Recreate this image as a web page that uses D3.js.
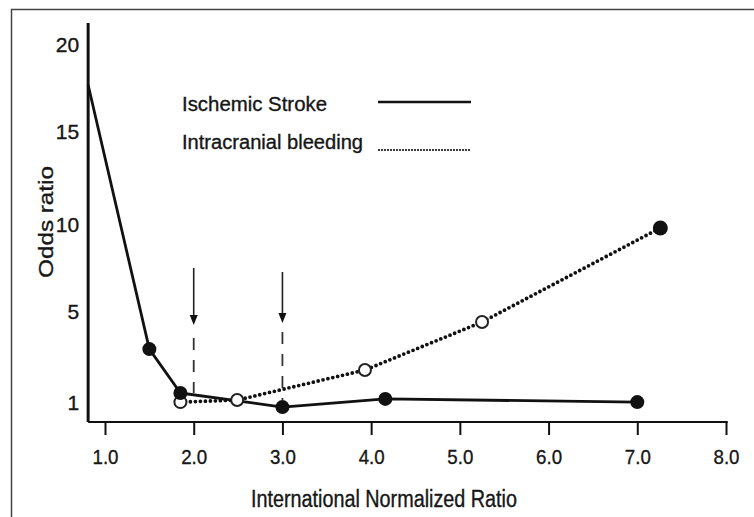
<!DOCTYPE html>
<html>
<head>
<meta charset="utf-8">
<script src="https://cdn.jsdelivr.net/npm/d3@7"></script>
<style>
  html, body { margin: 0; padding: 0; background: #fff; }
  svg { display: block; }
  text { font-family: "Liberation Sans", Arial, sans-serif; fill: #161616; stroke: #161616; stroke-width: 0.35px; }
</style>
</head>
<body>
<svg id="chart" width="754" height="517"></svg>
<script>
// ---- data ----
const xTicks = [1, 2, 3, 4, 5, 6, 7, 8];
const xTickLabels = ["1.0", "2.0", "3.0", "4.0", "5.0", "6.0", "7.0", "8.0"];
const yTicks = [1, 5, 10, 15, 20];
const yTickLabels = ["1", "5", "10", "15", "20"];

const strokeINR = [0.81, 1.5, 1.85, 3.0, 4.16, 7.0];
const strokeOR  = [17.7, 3.37, 1.44, 0.82, 1.18, 1.04];
const strokeMarker = [false, true, true, true, true, true];

const bleedINR = [1.85, 2.49, 3.93, 5.25, 7.26];
const bleedOR  = [1.04, 1.13, 2.45, 4.56, 9.83];
const bleedFilled = [false, false, false, false, true];

const legendLabels = ["Ischemic Stroke", "Intracranial bleeding"];

// arrows marking the target INR range (value space)
const arrowINR = [2.0, 3.0];
const arrowTopOR = [7.53, 7.3];
const arrowTipOR = [4.43, 4.52];
const dashStartOR = [3.86, 4.12];
const dashEndOR = [1.44, 1.13];

const xTitle = "International Normalized Ratio";
const yTitle = "Odds ratio";

// ---- scales ----
const x = d3.scaleLinear().domain([1, 8]).range([105, 726]);
// the printed y axis is not uniformly spaced: piecewise linear through the labels
const y = d3.scaleLinear().domain([1, 5, 10, 15, 20]).range([403, 312, 225, 132, 45]);

const svg = d3.select("#chart");

// frame
svg.append("path")
  .attr("d", "M11.5,517 L11.5,9.5 L754,9.5")
  .attr("fill", "none").attr("stroke", "#444").attr("stroke-width", 1.5);

// axes lines
const xMinAxis = 0.81, xMaxAxis = 8.02, yMinAxis = 0.165, yMaxAxis = 21.26;
svg.append("line")
  .attr("x1", x(xMinAxis)).attr("x2", x(xMinAxis))
  .attr("y1", y(yMinAxis)).attr("y2", y(yMaxAxis))
  .attr("stroke", "#111").attr("stroke-width", 3);
svg.append("line")
  .attr("x1", x(xMinAxis)).attr("x2", x(xMaxAxis))
  .attr("y1", y(yMinAxis)).attr("y2", y(yMinAxis))
  .attr("stroke", "#111").attr("stroke-width", 2.2);

// x axis ticks + labels
const xAxis = d3.axisBottom(x)
  .tickValues(xTicks)
  .tickFormat((d, i) => xTickLabels[i])
  .tickSize(13)
  .tickSizeOuter(0)
  .tickPadding(14);
const gx = svg.append("g")
  .attr("transform", `translate(0,${y(yMinAxis)})`)
  .call(xAxis);
gx.select(".domain").remove();
gx.selectAll(".tick line").attr("stroke", "#111").attr("stroke-width", 2);
gx.selectAll(".tick text")
  .attr("font-family", "Liberation Sans, Arial, sans-serif")
  .attr("font-size", 21)
  .attr("fill", "#161616")
  .attr("textLength", 26)
  .attr("lengthAdjust", "spacingAndGlyphs");

// y axis labels
const yAxis = d3.axisLeft(y)
  .tickValues(yTicks)
  .tickFormat((d, i) => yTickLabels[i])
  .tickSize(0)
  .tickPadding(9);
const gy = svg.append("g")
  .attr("transform", `translate(${x(xMinAxis)},0)`)
  .call(yAxis);
gy.select(".domain").remove();
gy.selectAll(".tick text")
  .attr("font-family", "Liberation Sans, Arial, sans-serif")
  .attr("font-size", 21)
  .attr("fill", "#161616");

// axis titles
svg.append("text")
  .attr("x", 384).attr("y", 507)
  .attr("text-anchor", "middle")
  .attr("font-size", 23)
  .attr("textLength", 266)
  .attr("lengthAdjust", "spacingAndGlyphs")
  .text(xTitle);
svg.append("text")
  .attr("transform", "translate(53,222) rotate(-90)")
  .attr("text-anchor", "middle")
  .attr("font-size", 21)
  .attr("textLength", 112)
  .attr("lengthAdjust", "spacingAndGlyphs")
  .text(yTitle);

// arrows + dashed guides
arrowINR.forEach((v, i) => {
  const ax = x(v);
  const tip = y(arrowTipOR[i]);
  svg.append("line")
    .attr("x1", ax).attr("x2", ax)
    .attr("y1", y(arrowTopOR[i])).attr("y2", tip - 8)
    .attr("stroke", "#222").attr("stroke-width", 1.6);
  svg.append("path")
    .attr("d", `M${ax - 4},${tip - 10} L${ax + 4},${tip - 10} L${ax},${tip} Z`)
    .attr("fill", "#111");
  svg.append("line")
    .attr("x1", ax).attr("x2", ax)
    .attr("y1", y(dashStartOR[i])).attr("y2", y(dashEndOR[i]))
    .attr("stroke", "#333").attr("stroke-width", 1.8)
    .attr("stroke-dasharray", "12 10");
});

// series
const strokeData = strokeINR.map((v, i) => ({x: v, y: strokeOR[i], m: strokeMarker[i]}));
const bleedData = bleedINR.map((v, i) => ({x: v, y: bleedOR[i], f: bleedFilled[i]}));
const line = d3.line().x(d => x(d.x)).y(d => y(d.y));

svg.append("path")
  .datum(bleedData)
  .attr("d", line)
  .attr("fill", "none")
  .attr("stroke", "#111")
  .attr("stroke-width", 3.8)
  .attr("stroke-linecap", "round")
  .attr("stroke-dasharray", "0 5");

svg.append("path")
  .datum(strokeData)
  .attr("d", line)
  .attr("fill", "none")
  .attr("stroke", "#111")
  .attr("stroke-width", 2.8)
  .attr("stroke-linejoin", "round");

svg.selectAll(".bleedPt")
  .data(bleedData)
  .enter().append("circle")
  .attr("cx", d => x(d.x)).attr("cy", d => y(d.y))
  .attr("r", d => d.f ? 7.5 : 6)
  .attr("fill", d => d.f ? "#111" : "#fff")
  .attr("stroke", "#222")
  .attr("stroke-width", d => d.f ? 0 : 2);

svg.selectAll(".strokePt")
  .data(strokeData.filter(d => d.m))
  .enter().append("circle")
  .attr("cx", d => x(d.x)).attr("cy", d => y(d.y))
  .attr("r", 7)
  .attr("fill", "#111");

// legend
svg.append("text").attr("x", 182).attr("y", 111)
  .attr("font-size", 20).attr("textLength", 145).attr("lengthAdjust", "spacingAndGlyphs")
  .text(legendLabels[0]);
svg.append("text").attr("x", 182).attr("y", 149)
  .attr("font-size", 20).attr("textLength", 181).attr("lengthAdjust", "spacingAndGlyphs")
  .text(legendLabels[1]);
svg.append("line").attr("x1", 378).attr("x2", 471).attr("y1", 102).attr("y2", 102)
  .attr("stroke", "#111").attr("stroke-width", 2.6);
svg.append("line").attr("x1", 379).attr("x2", 470).attr("y1", 150).attr("y2", 150)
  .attr("stroke", "#111").attr("stroke-width", 2.2)
  .attr("stroke-linecap", "round").attr("stroke-dasharray", "0 3");
</script>
</body>
</html>
